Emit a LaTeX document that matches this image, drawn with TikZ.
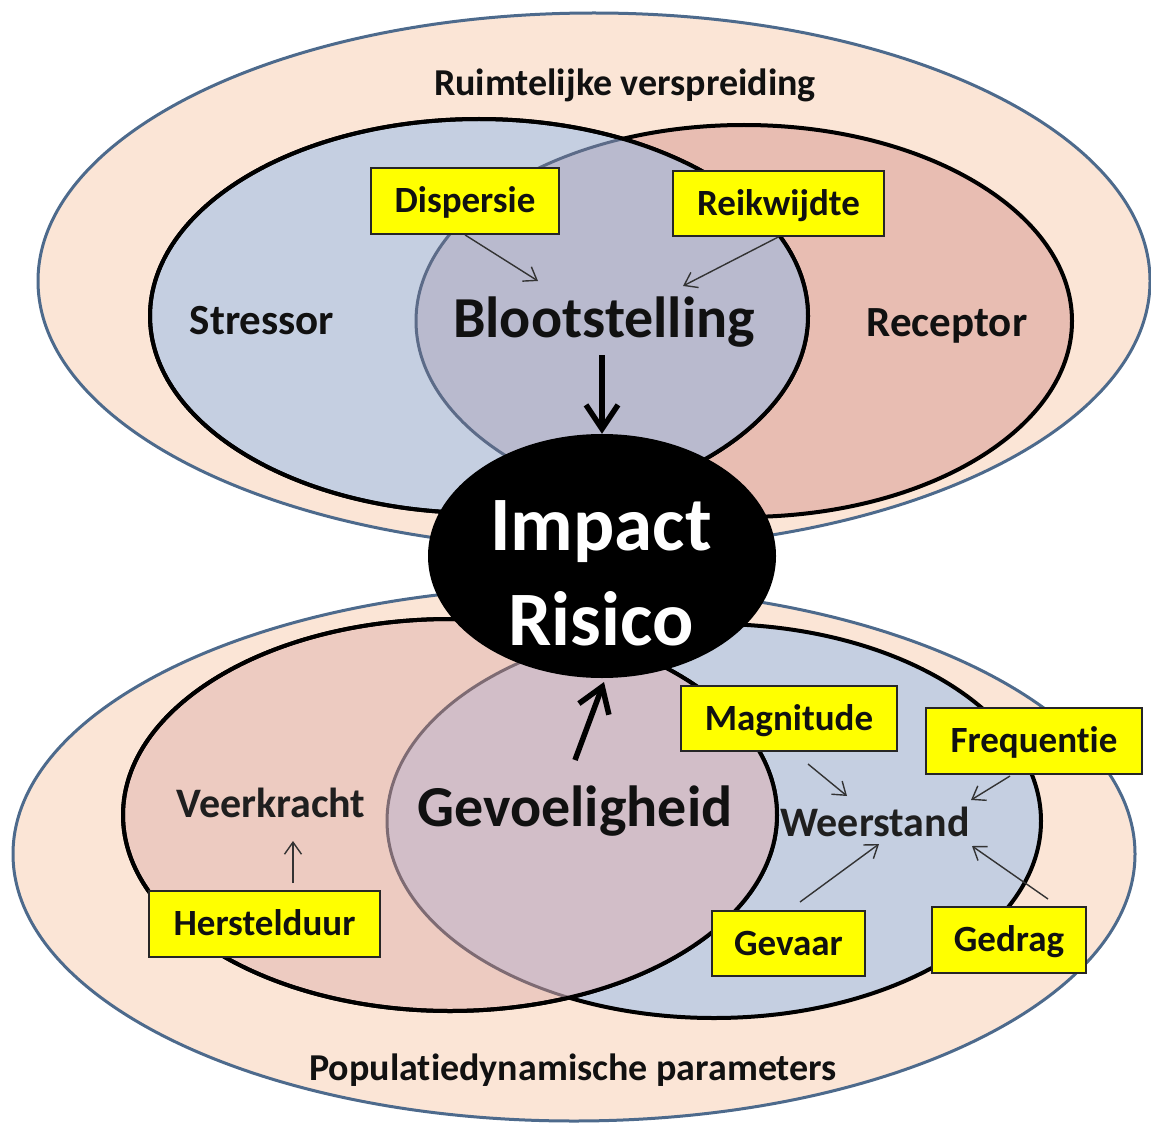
\documentclass[tikz,border=0pt]{standalone}
\usepackage{fontspec}
\setmainfont{Carlito}[Ligatures={NoCommon}]
\usetikzlibrary{arrows.meta,shapes.geometric}
\definecolor{peach}{HTML}{FBE5D6}
\definecolor{outerline}{HTML}{4D6A8C}
\definecolor{sblue}{HTML}{C5CFE1}
\definecolor{rpink}{HTML}{E8BDB2}
\definecolor{ovtop}{HTML}{B9BACE}
\definecolor{vpink}{HTML}{EDCBC1}
\definecolor{wblue}{HTML}{C5CFE1}
\definecolor{ovbot}{HTML}{D2BEC8}
\definecolor{hidtop}{HTML}{5C6B88}
\definecolor{hidbot}{HTML}{7E6B73}
\definecolor{boxyellow}{HTML}{FFFF00}
\definecolor{ink}{HTML}{111111}
\begin{document}
\begin{tikzpicture}[x=1pt,y=-1pt,
  ybox/.style={draw=black!85, line width=1.8pt, fill=boxyellow, inner sep=0pt,
    text height=28pt, text depth=5pt, text=ink,
    font=\fontsize{37}{40}\selectfont\bfseries},
  thinarrow/.style={draw=black!80, line width=1.4pt, -{Straight Barb[length=12pt,width=17pt]}},
  thickarrow/.style={draw=black, line width=5.5pt, -{Straight Barb[length=24pt,width=32pt]}},
  lab/.style={anchor=base, inner sep=0pt, text=ink},
  bigbold/.style={font=\fontsize{58}{62}\selectfont\bfseries},
  midbold/.style={font=\fontsize{43}{46}\selectfont\bfseries},
  midsemi/.style={font=\fontsize{42}{46}\selectfont\bfseries, text=black!88},
  titlebold/.style={font=\fontsize{38}{40}\selectfont\bfseries},
  impacttext/.style={anchor=base, inner sep=0pt, text=white, font=\fontsize{77}{80}\selectfont\bfseries},
]
\useasboundingbox (0,0) rectangle (1151,1126);
\fill[white] (0,0) rectangle (1151,1126);

% outer ellipses
\draw[outerline, line width=3pt, fill=peach] (594,281) ellipse [x radius=556pt, y radius=268pt];
\draw[outerline, line width=3pt, fill=peach] (574,854) ellipse [x radius=561pt, y radius=267pt];

% top group
\draw[line width=4pt, fill=rpink] (744,321) ellipse [x radius=328pt, y radius=196pt];
\draw[line width=4pt, fill=sblue] (479,316) ellipse [x radius=329pt, y radius=197pt];
\begin{scope}
  \clip (479,316) ellipse [x radius=329pt, y radius=197pt];
  \fill[ovtop] (744,321) ellipse [x radius=328pt, y radius=196pt];
  \draw[hidtop, line width=3pt] (744,321) ellipse [x radius=328pt, y radius=196pt];
\end{scope}
\draw[line width=4pt] (479,316) ellipse [x radius=329pt, y radius=197pt];

% bottom group
\draw[line width=4pt, fill=wblue] (714,821) ellipse [x radius=327pt, y radius=197pt];
\draw[line width=4pt, fill=vpink] (450,815) ellipse [x radius=327pt, y radius=196pt];
\begin{scope}
  \clip (450,815) ellipse [x radius=327pt, y radius=196pt];
  \fill[ovbot] (714,821) ellipse [x radius=327pt, y radius=197pt];
  \draw[hidbot, line width=3pt] (714,821) ellipse [x radius=327pt, y radius=197pt];
\end{scope}
\draw[line width=4pt] (450,815) ellipse [x radius=327pt, y radius=196pt];

% central ellipse
\node[ellipse, fill=black, minimum width=348pt, minimum height=244pt, inner sep=0pt] (impact) at (602,556) {};
\node[impacttext] (imp1) at (601,550) {Impact};
\node[impacttext] (imp2) at (601,645) {Risico};

% labels
\node[lab, titlebold] (ruim) at (625,96) {Ruimtelijke verspreiding};
\node[lab, midbold] (stressor) at (262,334) {Stressor};
\node[lab, bigbold] (bloot) at (604,337) {Blootstelling};
\node[lab, midbold] (receptor) at (947,336) {Receptor};
\node[lab, midsemi] (veer) at (271,817) {Veerkracht};
\node[lab, bigbold] (gevoel) at (575,826) {Gevoeligheid};
\node[lab, midsemi] (weer) at (875,836) {Weerstand};
\node[lab, titlebold] (popu) at (573,1080) {Populatiedynamische parameters};

% yellow boxes
\node[ybox, minimum width=188pt, minimum height=66pt] (disp) at (465,201) {Dispersie};
\node[ybox, minimum width=211pt, minimum height=65pt] (reik) at (778.5,203.5) {Reikwijdte};
\node[ybox, minimum width=216pt, minimum height=65pt] (magn) at (789,718.5) {Magnitude};
\node[ybox, minimum width=216pt, minimum height=66pt] (freq) at (1034,741) {Frequentie};
\node[ybox, minimum width=231pt, minimum height=66pt] (hers) at (264.5,924) {Herstelduur};
\node[ybox, minimum width=153pt, minimum height=65pt] (gevaar) at (788.5,943.5) {Gevaar};
\node[ybox, minimum width=154pt, minimum height=66pt] (gedrag) at (1009,940) {Gedrag};

% arrow end points
\coordinate (dispT) at (538,281);
\coordinate (reikT) at (683,286);
\coordinate (magnS) at (808,764);
\coordinate (magnT) at (847,796);
\coordinate (freqS) at (1010,776);
\coordinate (freqT) at (971,800);
\coordinate (hersS) at (293,883);
\coordinate (hersT) at (293,841);
\coordinate (gevaarS) at (800,902);
\coordinate (gevaarT) at (879,844);
\coordinate (gedragS) at (1048,899);
\coordinate (gedragT) at (972,846);
\coordinate (blootS) at (602,355);
\coordinate (gevoelS) at (575,760);
\coordinate (gevoelT) at (604,682);

\draw[thinarrow] (disp.south) -- (dispT);
\draw[thinarrow] (reik.south) -- (reikT);
\draw[thinarrow] (magnS) -- (magnT);
\draw[thinarrow] (freqS) -- (freqT);
\draw[thinarrow] (hersS) -- (hersT);
\draw[thinarrow] (gevaarS) -- (gevaarT);
\draw[thinarrow] (gedragS) -- (gedragT);

\draw[thickarrow] (blootS) -- (impact.north);
\draw[thickarrow] (gevoelS) -- (gevoelT);
\end{tikzpicture}
\end{document}
